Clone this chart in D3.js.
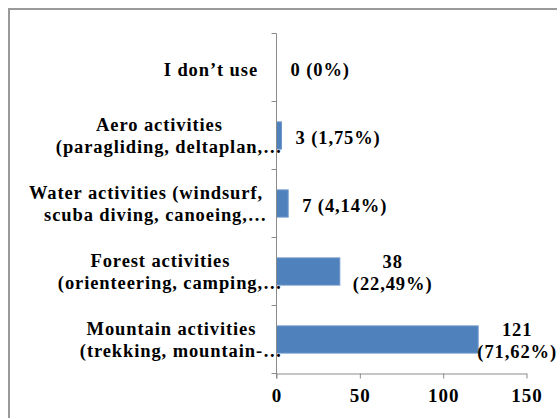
<!DOCTYPE html>
<html><head><meta charset="utf-8">
<script src="https://cdn.jsdelivr.net/npm/d3@7"></script>
<style>
html,body{margin:0;padding:0;background:#fff;}
svg{display:block;}
text{font-family:"Liberation Serif","Times New Roman",serif;font-weight:bold;fill:#000;}
</style></head>
<body>
<script>
const categories = [
  ["I don’t use"],
  ["Aero activities", "(paragliding, deltaplan,…"],
  ["Water activities (windsurf,", "scuba diving, canoeing,…"],
  ["Forest activities", "(orienteering, camping,…"],
  ["Mountain activities", "(trekking, mountain-…"]
];
const values = [0, 3, 7, 38, 121];
const percents = ["0%", "1,75%", "4,14%", "22,49%", "71,62%"];
const xTicks = [0, 50, 100, 150];

(function () {
const W = 557, H = 418;
const FONT = '"Liberation Serif","Times New Roman",serif';
const svg = d3.select("body").append("svg").attr("width", W).attr("height", H);

svg.append("rect").attr("x", 9).attr("y", 9).attr("width", 600).attr("height", 500)
  .attr("fill", "none").attr("stroke", "#9a9a9a").attr("stroke-width", 2);

const pLeft = 276.5, pRight = 526.5, pTop = 33.5, pBottom = 373.5;
const x = d3.scaleLinear().domain([0, 150]).range([pLeft, pRight]);
const y = d3.scaleBand().domain(d3.range(categories.length)).range([pTop, pBottom])
  .paddingInner(0.6).paddingOuter(0.3);
const yb = d3.scaleBand().domain(d3.range(categories.length)).range([pTop, pBottom]);

svg.selectAll("rect.bar").data(values).join("rect").attr("class", "bar")
  .attr("x", x(0)).attr("y", (d, i) => y(i))
  .attr("width", d => x(d) - x(0)).attr("height", y.bandwidth())
  .attr("fill", "#4f81bd").attr("stroke", d => d > 0 ? "#6f98cc" : "none").attr("stroke-width", 1);

const axisColor = "#8c8c8c";
svg.append("line").attr("x1", pLeft).attr("x2", pLeft).attr("y1", pTop).attr("y2", pBottom + 5)
  .attr("stroke", axisColor).attr("stroke-width", 1);
const bounds = d3.range(categories.length + 1).map(i => pTop + i * yb.step());
svg.selectAll("line.ytick").data(bounds).join("line").attr("class", "ytick")
  .attr("x1", pLeft - 5).attr("x2", pLeft).attr("y1", d => d).attr("y2", d => d)
  .attr("stroke", axisColor);

const xAxis = d3.axisBottom(x).tickValues(xTicks).tickSize(5).tickSizeOuter(0).tickPadding(9);
const gx = svg.append("g").attr("transform", `translate(0,${pBottom})`).call(xAxis);
gx.select(".domain").attr("stroke", axisColor);
gx.selectAll(".tick line").attr("stroke", axisColor);
gx.selectAll(".tick text").attr("font-size", 19).attr("font-family", FONT)
  .attr("font-weight", "bold").attr("fill", "#000").attr("letter-spacing", 1).attr("dy", "0.75em");

const FS = 18.5, LS = 0.9;
const labelRight = 263;
categories.forEach((lines, i) => {
  const cy = yb(i) + yb.step() / 2;
  const n = lines.length;
  if (n === 1) {
    svg.append("text").attr("font-size", FS).attr("letter-spacing", LS)
      .attr("x", 258).attr("text-anchor", "end").attr("y", cy + 8).text(lines[0]);
    return;
  }
  const nodes = lines.map((ln, j) => {
    const core = ln.replace(/…$/, "");
    const t = svg.append("text").attr("font-size", FS).attr("letter-spacing", LS)
      .attr("y", j === 0 ? cy - 5 : cy + 17.5);
    t.append("tspan").text(core);
    const w = t.node().getComputedTextLength();
    return { t, w, ell: core !== ln };
  });
  const maxW = d3.max(nodes, d => d.w);
  const c = labelRight - maxW / 2;
  nodes.forEach(d => {
    d.t.attr("x", c - d.w / 2);
    if (d.ell) d.t.append("tspan").attr("letter-spacing", 2).text("…");
  });
});

values.forEach((v, i) => {
  const cy = yb(i) + yb.step() / 2;
  if (v < 20) {
    svg.append("text").attr("font-size", FS).attr("letter-spacing", LS)
      .attr("x", x(v) + 14).attr("y", cy + 8.5).text(`${v} (${percents[i]})`);
  } else {
    const l2 = svg.append("text").attr("font-size", FS).attr("letter-spacing", LS)
      .attr("y", cy + 18).text(`(${percents[i]})`);
    const w = l2.node().getComputedTextLength();
    const leftX = Math.min(x(v) + 13, W - w);
    const cx = leftX + w / 2;
    l2.attr("x", cx).attr("text-anchor", "middle");
    svg.append("text").attr("font-size", FS).attr("letter-spacing", LS)
      .attr("x", cx).attr("text-anchor", "middle").attr("y", cy - 4).text(v);
  }
});
})();
</script>
</body></html>
